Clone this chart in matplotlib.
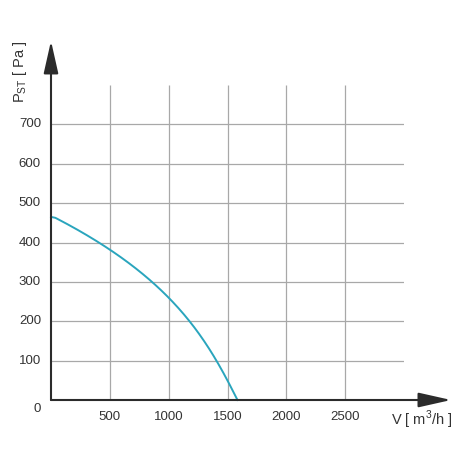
import matplotlib
matplotlib.use("Agg")
import matplotlib.pyplot as plt
import numpy as np

plt.rcParams['font.family'] = ['Liberation Sans', 'DejaVu Sans']

# data
flow = [0, 200, 417, 500, 814, 1000, 1182, 1409, 1500, 1573]
pressure = [465, 437, 400, 390, 300, 259, 200, 100, 59, 0]
x_ticks = [500, 1000, 1500, 2000, 2500]
y_ticks = [100, 200, 300, 400, 500, 600, 700]

fig = plt.figure(figsize=(4.7, 4.7), dpi=100)
ax = fig.add_axes([51/470, 70/470, 353/470, 315/470])
ax.set_xlim(0, 3000)
ax.set_ylim(0, 800)
for s in ax.spines.values():
    s.set_visible(False)
ax.set_xticks([]); ax.set_yticks([])

grid_c = '#a8a8a8'
ax.hlines(y_ticks, 0, 3000, color=grid_c, lw=0.9, zorder=1)
ax.vlines(x_ticks, 0, 800, color=grid_c, lw=0.9, zorder=1)

# smooth curve through read points
from numpy import interp
p = np.array(pressure, float); f = np.array(flow, float)
ys = np.linspace(0, 465, 200)
# monotone cubic-ish via polynomial fit on read points
coef = np.polyfit(p, f, 3)
fs = np.polyval(coef, ys)
fs[-1] = 0
ax.plot(fs, ys, color='#2aa5bd', lw=1.4, zorder=3, clip_on=False)

axc = '#2b2b2b'
ax.annotate('', xy=(3400, 0), xytext=(0, 0),
            arrowprops=dict(arrowstyle='-|>,head_length=2.0,head_width=0.45', color=axc, lw=1.5,
                            shrinkA=0, shrinkB=0), annotation_clip=False, zorder=4)
ax.annotate('', xy=(0, 912), xytext=(0, 0),
            arrowprops=dict(arrowstyle='-|>,head_length=2.0,head_width=0.45', color=axc, lw=1.5,
                            shrinkA=0, shrinkB=0), annotation_clip=False, zorder=4)

tc = '#333333'
for v in y_ticks:
    ax.text(-85, v, str(v), ha='right', va='center', fontsize=9.5, color=tc)
for v in x_ticks:
    ax.text(v, -28, str(v), ha='center', va='top', fontsize=9.5, color=tc)
ax.text(-85, -22, '0', ha='right', va='center', fontsize=9.5, color=tc)

fig.text(20/470, 1 - 72/470, r'P$_{\mathregular{ST}}$ [ Pa ]', rotation=90, ha='center', va='center',
         fontsize=10.5, color=tc)
fig.text(422/470, 1 - 420/470, r'V [ m$^{\mathregular{3}}$/h ]', ha='center', va='center',
         fontsize=10.5, color=tc)

fig.savefig('out.png', dpi=100)
